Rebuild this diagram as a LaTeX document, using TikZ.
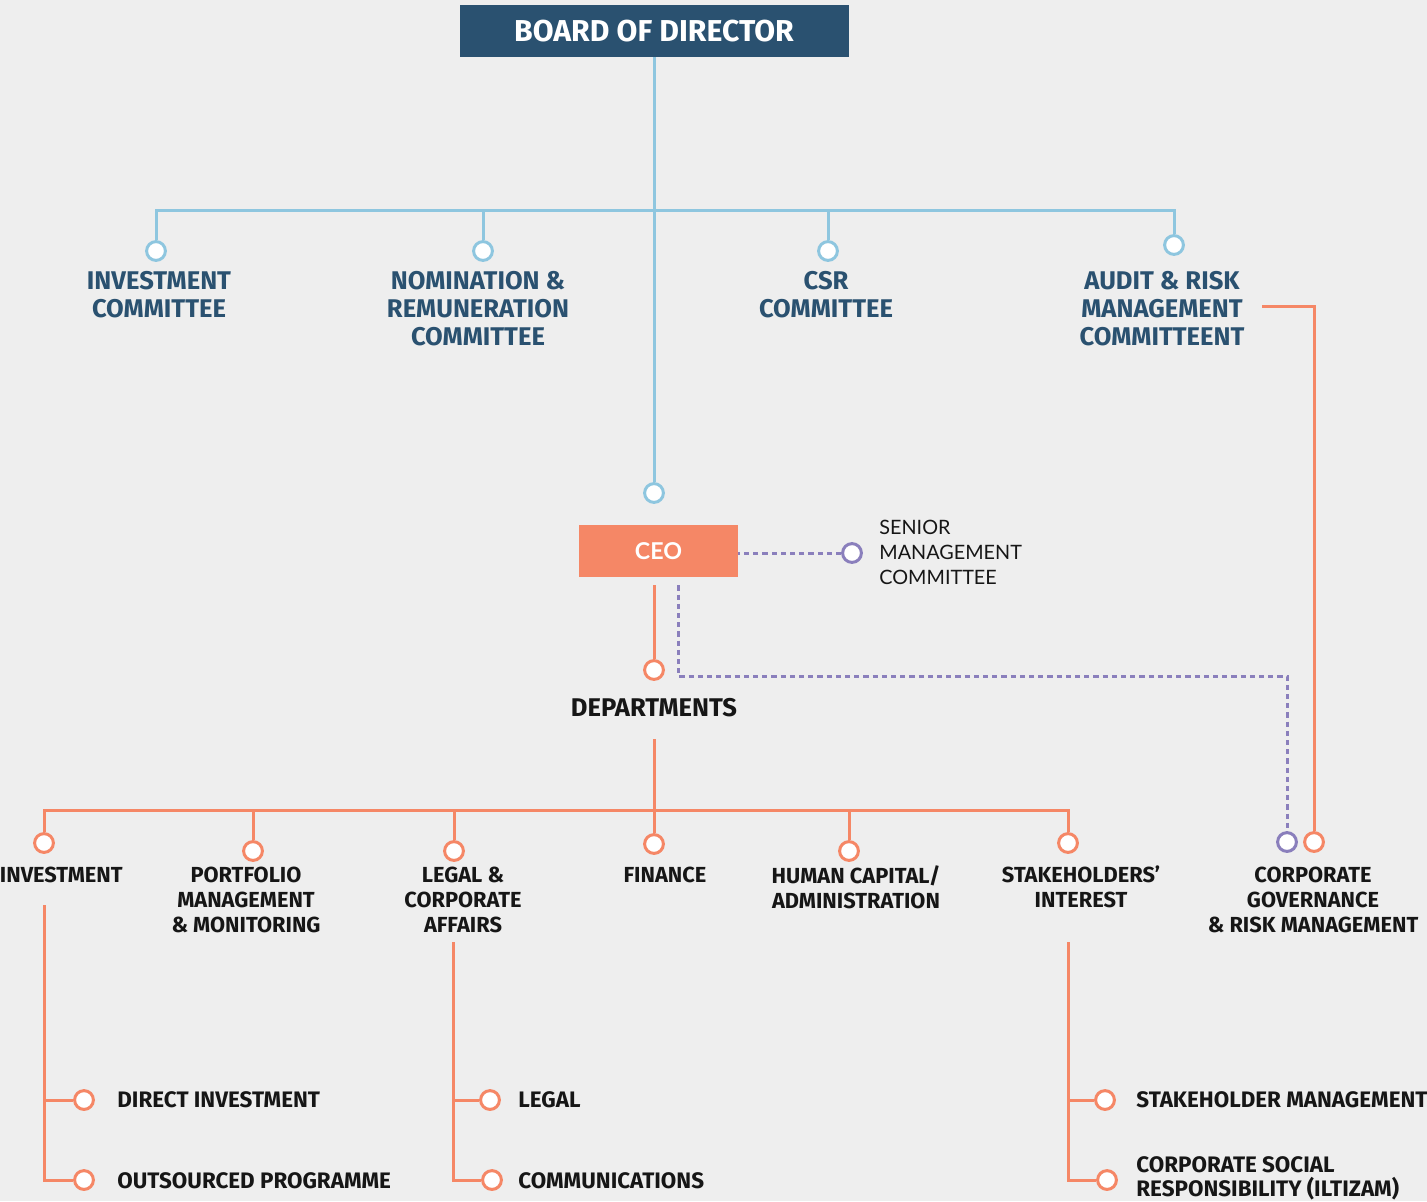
\documentclass[tikz,border=0pt]{standalone}
\usepackage{fontspec}
\setmainfont{Fira Sans}
\newfontfamily\lato{Lato}
\usetikzlibrary{calc}
\definecolor{boardblue}{HTML}{2A5170}
\definecolor{lineblue}{HTML}{8EC6DF}
\definecolor{salmon}{HTML}{F58766}
\definecolor{lilac}{HTML}{8A7FBC}
\definecolor{bggrey}{HTML}{EEEEEE}
\definecolor{ink}{HTML}{161616}

\begin{document}
\begin{tikzpicture}
[x=0.5pt,y=-0.5pt,
dot/.style={draw=#1,circle,fill=white,line width=1.5pt,minimum size=9.4pt,inner sep=0pt},
blueline/.style={lineblue,line width=1.5pt},
redline/.style={salmon,line width=1.5pt},
purpledash/.style={lilac,line width=1.5pt,dash pattern=on 2.6pt off 2pt},
committee/.style={align=center,text=boardblue,font=\bfseries\fontsize{12.8}{14}\selectfont},
dept/.style={align=center,text=ink,font=\bfseries\fontsize{10.9}{12.5}\selectfont},
sub/.style={anchor=west,align=left,inner sep=0pt,text=ink,font=\bfseries\fontsize{11.2}{12}\selectfont},]

%Background
\useasboundingbox (0,0) rectangle (1427,1201);
\fill[bggrey] (0,0) rectangle (1427,1201);

%Board and committees
\node (board) at (654,31)[fill=boardblue,minimum width=194.5pt,minimum height=26pt,text=white,font=\bfseries\fontsize{15.1}{17}\selectfont] {BOARD OF DIRECTOR};
\coordinate (bj) at (654,210);
\node (c1dot) at (156,251)[dot=lineblue] {};
\node (c2dot) at (483,251)[dot=lineblue] {};
\node (c3dot) at (828,251)[dot=lineblue] {};
\node (c4dot) at (1174,245)[dot=lineblue] {};
\node (c1) at (159,295)[committee] {INVESTMENT\\COMMITTEE};
\node (c2) at (478,309)[committee] {NOMINATION \&\\REMUNERATION\\COMMITTEE};
\node (c3) at (826,295)[committee] {CSR\\COMMITTEE};
\node (c4) at (1162,309)[committee] {AUDIT \& RISK\\MANAGEMENT\\COMMITTEENT};

%CEO
\node (ceodot) at (654,493)[dot=lineblue] {};
\node (ceo) at (658.5,551)[fill=salmon,minimum width=79.5pt,minimum height=26pt,text=white,font=\lato\bfseries\fontsize{11.6}{13}\selectfont] {CEO};
\node (smdot) at (852,553)[dot=lilac] {};
\node (sm) at (879,552)[anchor=west,align=left,inner sep=0pt,text=ink,font=\lato\fontsize{9.9}{12.5}\selectfont] {SENIOR\\MANAGEMENT\\COMMITTEE};
\coordinate (turn) at (678,676);
\coordinate (auditend) at (1262,306);

%Departments
\node (depdot) at (654,670)[dot=salmon] {};
\node (deps) at (654,708)[dept,font=\bfseries\fontsize{12.8}{14}\selectfont] {DEPARTMENTS};
\coordinate (dj) at (654,810);
\node (d1dot) at (44,843)[dot=salmon] {};
\node (d2dot) at (253,851)[dot=salmon] {};
\node (d3dot) at (454,851)[dot=salmon] {};
\node (d4dot) at (654,844)[dot=salmon] {};
\node (d5dot) at (849,851)[dot=salmon] {};
\node (d6dot) at (1068,843)[dot=salmon] {};
\node (d7pdot) at (1287,842)[dot=lilac] {};
\node (d7dot) at (1314,842)[dot=salmon] {};
\node (d1) at (123,875)[dept,anchor=east,inner sep=0pt] {INVESTMENT};
\node (d2) at (246,900)[dept] {PORTFOLIO\\MANAGEMENT\\\& MONITORING};
\node (d3) at (463,900)[dept] {LEGAL \&\\CORPORATE\\AFFAIRS};
\node (d4) at (665,875)[dept] {FINANCE};
\node (d5) at (856,887)[dept] {HUMAN CAPITAL/\\ADMINISTRATION};
\node (d6) at (1081,887)[dept] {STAKEHOLDERS'\\INTEREST};
\node (d7) at (1313,900)[dept] {CORPORATE\\GOVERNANCE\\\& RISK MANAGEMENT};

%Units
\coordinate (t1) at (44,905);
\coordinate (t3) at (453,942);
\coordinate (t6) at (1068,942);
\node (u1dot) at (84,1100)[dot=salmon] {};
\node (u2dot) at (84,1180)[dot=salmon] {};
\node (u3dot) at (490,1100)[dot=salmon] {};
\node (u4dot) at (492,1180)[dot=salmon] {};
\node (u5dot) at (1105,1100)[dot=salmon] {};
\node (u6dot) at (1107,1180)[dot=salmon] {};
\node (u1) at (117,1100)[sub] {DIRECT INVESTMENT};
\node (u2) at (117,1181)[sub] {OUTSOURCED PROGRAMME};
\node (u3) at (518,1100)[sub] {LEGAL};
\node (u4) at (518,1181)[sub] {COMMUNICATIONS};
\node (u5) at (1136,1100)[sub] {STAKEHOLDER MANAGEMENT};
\node (u6) at (1136,1178)[sub] {CORPORATE SOCIAL\\RESPONSIBILITY (ILTIZAM)};

%Blue lines
\draw[blueline] (board) -- (ceodot);
\draw[blueline] (c1dot) |- (bj) -| (c4dot);
\draw[blueline] (c2dot) -- (c2dot |- bj);
\draw[blueline] (c3dot) -- (c3dot |- bj);

%Orange lines
\draw[redline] (auditend) -| (d7dot);
\draw[redline] ($(ceo.south)+(-4.5,8)$) -- (depdot);
\draw[redline] ($(deps.south)+(0,15)$) -- (d4dot);
\draw[redline] (d1dot) |- (dj) -| (d6dot);
\draw[redline] (d2dot) -- (d2dot |- dj);
\draw[redline] (d3dot) -- (d3dot |- dj);
\draw[redline] (d5dot) -- (d5dot |- dj);
\draw[redline] (t1) |- (u2dot);
\draw[redline] (u1dot) -- (u1dot -| t1);
\draw[redline] (t3) |- (u4dot);
\draw[redline] (u3dot) -- (u3dot -| t3);
\draw[redline] (t6) |- (u6dot);
\draw[redline] (u5dot) -- (u5dot -| t6);

%Dotted links
\draw[purpledash] (smdot) -- (smdot -| ceo.east);
\draw[purpledash] ($(ceo.south)+(19.5,8)$) -- (turn) -| (d7pdot);

\end{tikzpicture}
\end{document}
